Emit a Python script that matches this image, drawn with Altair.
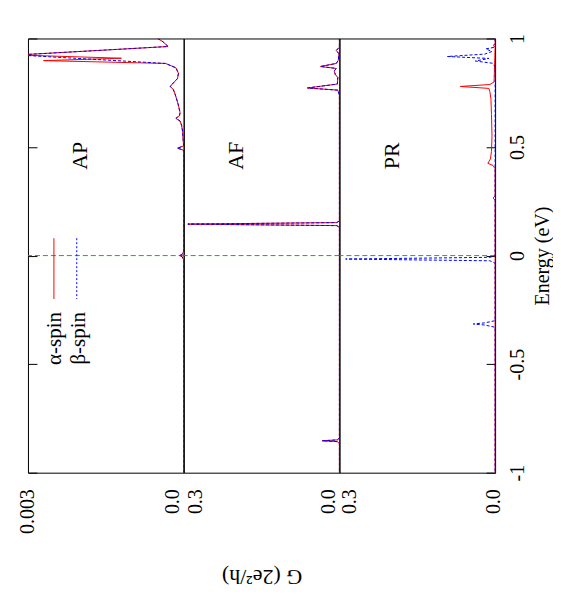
import altair as alt
import pandas as pd

FONT = "Liberation Serif"
RED = "#ff0000"
BLUE = "#0000ff"
GREEN = "#00c000"

# ---------------- data (Energy in eV, G in 2e^2/h) ----------------
# AP panel (G max 0.003)
AP_A_E = [1.00, 0.985, 0.963, 0.924, 0.909, 0.898, 0.885, 0.865, 0.84, 0.815, 0.795, 0.779, 0.765,
          0.74, 0.70, 0.66, 0.645, 0.632, 0.62, 0.60, 0.57, 0.53, 0.505, 0.495, 0.485, 0.40,
          0.02, 0.005, 0.0, -0.005, -0.02, -1.0]
AP_A_G = [0.00050, 0.00040, 0.00030, 0.0032, 0.0012, 0.0027, 0.00035, 0.00015, 0.00010, 0.00012,
          0.00020, 0.00026, 0.00020, 0.00016, 0.00011, 0.00007, 0.00008, 0.00015, 0.00007, 0.00004,
          0.00002, 0.00001, 0.0, 0.00012, 0.0, 0.0, 0.0, 0.00003, 0.00008, 0.00003, 0.0, 0.0]
AP_B_E = [1.00, 0.985, 0.963, 0.924, 0.885, 0.865, 0.84, 0.815, 0.795, 0.779, 0.765,
          0.74, 0.70, 0.66, 0.645, 0.632, 0.62, 0.60, 0.57, 0.53, 0.505, 0.495, 0.485, 0.40,
          0.02, 0.005, 0.0, -0.005, -0.02, -1.0]
AP_B_G = [0.00050, 0.00040, 0.00030, 0.0032, 0.00035, 0.00015, 0.00010, 0.00012,
          0.00020, 0.00026, 0.00020, 0.00016, 0.00011, 0.00007, 0.00008, 0.00015, 0.00007, 0.00004,
          0.00002, 0.00001, 0.0, 0.00012, 0.0, 0.0, 0.0, 0.00003, 0.00008, 0.00003, 0.0, 0.0]

# AF panel (G max 0.3), both spins identical
AF_E = [1.00, 0.96, 0.945, 0.93, 0.90, 0.885, 0.871, 0.862, 0.85, 0.835, 0.82, 0.79, 0.772,
        0.762, 0.74, 0.16, 0.152, 0.145, 0.138, 0.13, -0.84, -0.849, -0.853, -0.857, -0.866, -1.0]
AF_G = [0.0, 0.0, 0.006, 0.001, 0.002, 0.006, 0.0365, 0.006, 0.010, 0.008, 0.003, 0.004, 0.0615,
        0.003, 0.0, 0.0, 0.005, 0.292, 0.005, 0.0, 0.0, 0.004, 0.033, 0.004, 0.0, 0.0]

# PR panel (G max 0.3)
PR_A_E = [1.00, 0.975, 0.968, 0.96, 0.80, 0.788, 0.779, 0.770, 0.755, 0.72, 0.65, 0.55, 0.48,
          0.445, 0.425, 0.415, 0.40, 0.275, 0.265, 0.255, -1.0]
PR_A_G = [0.0, 0.0, 0.004, 0.0, 0.002, 0.010, 0.067, 0.012, 0.010, 0.008, 0.007, 0.006, 0.007,
          0.009, 0.014, 0.004, 0.0, 0.0, 0.004, 0.0, 0.0]
PR_B_E = [1.00, 0.96, 0.952, 0.94, 0.928, 0.917, 0.908, 0.896, 0.886, 0.87, 0.0, -0.008, -0.016,
          -0.024, -0.035, -0.30, -0.31, -0.315, -0.32, -0.33, -1.0]
PR_B_G = [0.0, 0.0, 0.018, 0.006, 0.02, 0.092, 0.012, 0.038, 0.005, 0.0, 0.0, 0.01, 0.288,
          0.01, 0.0, 0.0, 0.02, 0.042, 0.02, 0.0, 0.0]

PANELS = ["AP", "AF", "PR"]
G_MAX = [0.003, 0.3, 0.3]
PANEL_LABEL_G = [0.00187, 0.185, 0.185]
PANEL_LABEL_E = [0.46, 0.46, 0.46]

LEGEND_LABELS = ["α-spin", "β-spin"]
LEGEND_SPIN = ["alpha", "beta"]
LEGEND_LINE_G = [0.0025, 0.00206]
LEGEND_TEXT_G = [0.00236, 0.00190]
LEGEND_E_TOP = 0.08
LEGEND_E_BOT = -0.20
LEGEND_TEXT_E = -0.26

ENERGY_TICKS = [-1, -0.5, 0, 0.5, 1]
FERMI_E = [0.0]

series = [
    ("AP", "alpha", AP_A_E, AP_A_G), ("AP", "beta", AP_B_E, AP_B_G),
    ("AF", "alpha", AF_E, AF_G), ("AF", "beta", AF_E, AF_G),
    ("PR", "alpha", PR_A_E, PR_A_G), ("PR", "beta", PR_B_E, PR_B_G),
]
rows = []
for p, s, es, gs in series:
    for i, (e, g) in enumerate(zip(es, gs)):
        rows.append({"panel": p, "spin": s, "E": e, "G": g, "i": i})
df = pd.DataFrame(rows)
zero_df = pd.DataFrame({"E": FERMI_E})
leg_df = pd.DataFrame({"label": LEGEND_LABELS, "spin": LEGEND_SPIN, "Gl": LEGEND_LINE_G,
                       "Gt": LEGEND_TEXT_G, "E1": [LEGEND_E_TOP] * 2, "E2": [LEGEND_E_BOT] * 2,
                       "Et": [LEGEND_TEXT_E] * 2})

W, H = 156, 435
TICK_FS = 20
ys = alt.Scale(domain=[-1, 1], nice=False, zero=False)


def x_axis(k):
    gmax = G_MAX[k]
    if k == 0:
        expr = "datum.value == 0 ? '0.0' : format(datum.value, '.3f')"
        off = {"condition": {"test": "datum.value == 0", "value": -11}, "value": 0}
    elif k == 1:
        expr = "format(datum.value, '.1f')"
        off = {"condition": {"test": "datum.value == 0", "value": -11}, "value": 12}
    else:
        expr = "format(datum.value, '.1f')"
        off = {"condition": {"test": "datum.value == 0", "value": -2}, "value": 10}
    kw = dict(values=[gmax, 0], labelExpr=expr, labelAngle=270, labelAlign="right",
              labelBaseline="middle", labelOffset=off, ticks=False, domain=False, grid=False,
              labelPadding=16, labelFont=FONT, labelFontSize=TICK_FS, labelColor="black",
              labelFlush=False, labelOverlap=False)
    if k == 1:
        kw.update(title="G (2e²/h)", titleAngle=180, titleBaseline="bottom", titlePadding=51,
                  titleFont=FONT, titleFontSize=22, titleFontWeight="normal", titleColor="black")
    else:
        kw.update(title=None)
    return alt.Axis(**kw)


def y_axis(k):
    if k == 0:
        return alt.Axis(orient="left", values=ENERGY_TICKS, offset=-9, tickSize=9, tickColor="black",
                        labels=False, domain=False, grid=False, title=None)
    if k == 2:
        return alt.Axis(orient="right", values=ENERGY_TICKS, labelExpr="'' + datum.value",
                        offset=-9, tickSize=9, tickColor="black", domain=False, grid=False,
                        labelAngle=270, labelAlign="center", labelBaseline="top", labelPadding=12,
                        labelFont=FONT, labelFontSize=TICK_FS, labelColor="black", labelFlush=False,
                        labelOverlap=False, title="Energy (eV)", titleAngle=270,
                        titleBaseline="top", titlePadding=5, titleFont=FONT, titleFontSize=20,
                        titleFontWeight="normal", titleColor="black")
    return None


def panel(k):
    name = PANELS[k]
    xs = alt.Scale(domain=[0, G_MAX[k]], reverse=True, nice=False, zero=False)
    X = lambda f: alt.X(f, scale=xs, axis=x_axis(k))
    Y = lambda f: alt.Y(f, scale=ys, axis=y_axis(k))
    sub = df[df.panel == name]
    zero = alt.Chart(zero_df).mark_rule(color=GREEN, strokeDash=[5, 3], strokeWidth=1).encode(
        y=Y("E:Q"))
    red = alt.Chart(sub[sub.spin == "alpha"]).mark_line(color=RED, strokeWidth=1, clip=True).encode(
        x=X("G:Q"), y=Y("E:Q"), order="i:Q")
    blue = alt.Chart(sub[sub.spin == "beta"]).mark_line(color=BLUE, strokeWidth=1, strokeDash=[3, 2],
                                                        clip=True).encode(
        x=X("G:Q"), y=Y("E:Q"), order="i:Q")
    lab = alt.Chart(pd.DataFrame({"t": [name], "G": [PANEL_LABEL_G[k]], "E": [PANEL_LABEL_E[k]]})).mark_text(
        angle=270, align="center", baseline="alphabetic", font=FONT, fontSize=22, color="black").encode(
        x=X("G:Q"), y=Y("E:Q"), text="t:N")
    layers = [zero, red, blue, lab]
    if k == 0:
        la = alt.Chart(leg_df[leg_df.spin == "alpha"]).mark_rule(color=RED, strokeWidth=1).encode(
            x=X("Gl:Q"), y=Y("E1:Q"), y2="E2:Q")
        lb = alt.Chart(leg_df[leg_df.spin == "beta"]).mark_rule(color=BLUE, strokeWidth=1,
                                                                 strokeDash=[2, 2]).encode(
            x=X("Gl:Q"), y=Y("E1:Q"), y2="E2:Q")
        lt = alt.Chart(leg_df).mark_text(angle=270, align="right", baseline="alphabetic", font=FONT,
                                         fontSize=21, color="black").encode(
            x=X("Gt:Q"), y=Y("Et:Q"), text="label:N")
        layers += [la, lb, lt]
    return alt.layer(*layers).properties(width=W, height=H)


chart = alt.hconcat(panel(0), panel(1), panel(2), spacing=0, bounds="flush").resolve_scale(
    x="independent").properties(
    padding={"left": 9, "top": 24, "right": 0, "bottom": 0}, background="white"
).configure(font=FONT).configure_view(stroke="black", strokeWidth=1)

chart.save("out.html", embed_options={"renderer": "svg", "actions": False})
